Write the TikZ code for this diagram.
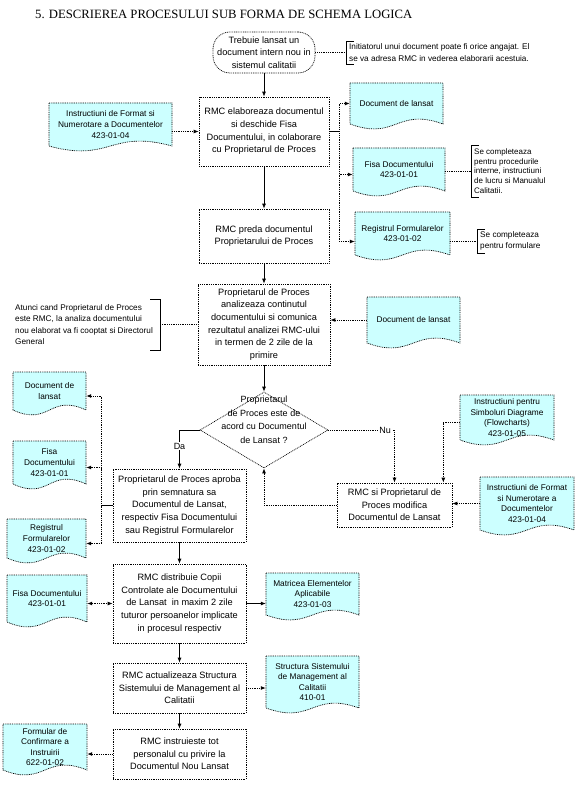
\documentclass[tikz,border=0pt]{standalone}
\usepackage{fontspec}
\setmainfont{Liberation Sans}
\newfontfamily\titlefont{Liberation Serif}
\usetikzlibrary{arrows.meta,shapes.geometric,calc}
\definecolor{docblue}{RGB}{204,255,255}
\newcommand\boxfont{\fontsize{9.2}{12.7}\selectfont}
\newcommand\docfont{\fontsize{8.3}{10.6}\selectfont}
\newcommand\notefont{\fontsize{8.2}{11.5}\selectfont}
\newcommand\docshape[6]{%
  \path[docstyle] (#2,#3) -- (#4,#3) -- (#4,#5) .. controls ({(#2+#4)/2},{#5-17}) and ({(#2+#4)/2},{#5+17}) .. (#2,#5) -- cycle;
  \node[doctext, minimum width={#4-#2}, minimum height={#5-#3}] (#1) at ({(#2+#4)/2},{(#3+#5)/2}) {#6};}
\newcommand\pbox[6]{%
  \node[procbox, minimum width={#4-#2}, minimum height={#5-#3}] (#1) at ({(#2+#4)/2},{(#3+#5)/2}) {#6};}
\begin{document}
\begin{tikzpicture}[x=1pt,y=-1pt,
  dotline/.style={line width=0.7pt, dash pattern=on 0.9pt off 0.9pt},
  procbox/.style={draw=black, dotline, fill=white, align=center, inner sep=0pt, font=\boxfont},
  docstyle/.style={fill=docblue, draw=black, dotline},
  doctext/.style={align=center, inner sep=0pt, font=\docfont},
  term/.style={draw=black, dotline, fill=white, rounded corners=17pt, align=center, inner sep=0pt, font=\boxfont, minimum width=102, minimum height=41},
  notetext/.style={align=left, inner sep=1pt, font=\notefont, anchor=west},
  bracket/.style={draw=black, line width=0.7pt},
  tip/.style={-{Latex[length=5pt,width=4pt]}},
  conn/.style={line width=0.8pt, tip},
  solidline/.style={line width=0.8pt},
  dconn/.style={dotline, line width=0.9pt, tip},
  dline/.style={dotline, line width=0.9pt},
  lbl/.style={fill=white, inner sep=1pt, font=\fontsize{9}{11}\selectfont}
]
\fill[white] (0,0) rectangle (576,786);
\useasboundingbox (0,0) rectangle (576,786);

% title
\node[anchor=base west, inner sep=0pt, font=\titlefont\fontsize{12.7}{14}\selectfont] (title) at (35,19) {5. DESCRIEREA PROCESULUI SUB FORMA DE SCHEMA LOGICA};

% start
\node[term] (term) at (264,52.5) {Trebuie lansat un\\document intern nou in\\sistemul calitatii};
\draw[bracket] (354,41) -- (346,41) -- (346,64) -- (354,64);
\coordinate (n1) at (346,52.5);
\node[notetext] (note1) at (348,52.5) {Initiatorul unui document poate fi orice angajat. El\\se va adresa RMC in vederea elaborarii acestuia.};
\draw[dline] (term.east) -- (n1);

% process boxes
\pbox{b1}{199}{97}{329}{166}{RMC elaboreaza documentul\\si deschide Fisa\\Documentului, in colaborare\\cu Proprietarul de Proces}
\pbox{b2}{199}{209}{329}{263}{RMC preda documentul\\Proprietarului de Proces}
\pbox{b3}{198}{284}{330}{365}{Proprietarul de Proces\\analizeaza continutul\\documentului si comunica\\rezultatul analizei RMC-ului\\in termen de 2 zile de la\\primire}
\node[draw=black, dotline, fill=white, diamond, minimum width=128, minimum height=76, inner sep=0pt] (dia) at (264,430) {};
\node[align=center, inner sep=0pt, font=\fontsize{9}{13.5}\selectfont] (diat) at (264,420) {Proprietarul\\de Proces este de\\acord cu Documentul\\de Lansat ?};
\pbox{b4}{113}{469}{246}{542}{Proprietarul de Proces aproba\\prin semnatura sa\\Documentul de Lansat,\\respectiv Fisa Documentului\\sau Registrul Formularelor}
\pbox{b5}{337}{483}{452}{527}{RMC si Proprietarul de\\Proces modifica\\Documentul de Lansat}
\pbox{b6}{113}{564}{246}{643}{RMC distribuie Copii\\Controlate ale Documentului\\de Lansat\ \ in maxim 2 zile\\tuturor persoanelor implicate\\in procesul respectiv}
\pbox{b7}{113}{663}{246}{713}{RMC actualizeaza Structura\\Sistemului de Management al\\Calitatii}
\pbox{b8}{113}{729}{246}{779}{RMC instruieste tot\\personalul cu privire la\\Documentul Nou Lansat}

% documents
\docshape{dL1}{49}{103}{172}{146}{Instructiuni de Format si\\Numerotare a Documentelor\\423-01-04}
\docshape{dR1}{350}{83}{443}{124}{Document de lansat}
\docshape{dR2}{353}{148}{445}{191}{Fisa Documentului\\423-01-01}
\docshape{dR3}{355}{212}{450}{255}{Registrul Formularelor\\423-01-02}
\docshape{dR4}{367}{297}{460}{343}{Document de lansat}
\docshape{dL2}{13}{372}{86}{410}{Document de\\lansat}
\docshape{dL3}{13}{441}{86}{484}{Fisa\\Documentului\\423-01-01}
\docshape{dL4}{7}{519}{86}{558}{Registrul\\Formularelor\\423-01-02}
\docshape{dR5}{460}{395}{554}{440}{Instructiuni pentru\\Simboluri Diagrame\\(Flowcharts)\\423-01-05}
\docshape{dR6}{480}{477}{574}{530}{Instructiuni de Format\\si Numerotare a\\Documentelor\\423-01-04}
\docshape{dL5}{7}{575}{87}{622}{Fisa Documentului\\423-01-01}
\docshape{dR7}{266}{573}{359}{615}{Matricea Elementelor\\Aplicabile\\423-01-03}
\docshape{dR8}{266}{656}{359}{708}{Structura Sistemului\\de Management al\\Calitatii\\410-01}
\docshape{dL6}{3}{724}{87}{770}{Formular de\\Confirmare a\\Instruirii\\622-01-02}

% notes
\draw[bracket] (479,145) -- (471,145) -- (471,197) -- (479,197);
\coordinate (n2) at (471,171);
\node[notetext, font=\fontsize{8}{9.6}\selectfont] (note2) at (473,171) {Se completeaza\\pentru procedurile\\interne, instructiuni\\de lucru si Manualul\\Calitatii.};
\draw[bracket] (485,229) -- (477,229) -- (477,253) -- (485,253);
\coordinate (n3) at (477,241);
\node[notetext] (note3) at (479,241) {Se completeaza\\pentru formulare};
\draw[bracket] (150,299) -- (160,299) -- (160,350) -- (150,350);
\coordinate (n4) at (160,324.5);
\node[notetext] (note4) at (14,324.5) {Atunci cand Proprietarul de Proces\\este RMC, la analiza documentului\\nou elaborat va fi cooptat si Directorul\\General};

% connectors
\draw[conn] (term.south) -- (b1.north);
\draw[dconn] (b1.west -| dL1.east) -- (b1.west);
\coordinate (bus1) at ($(b1.east)+(10,0)$);
\draw[solidline] (b1.east) -- (bus1);
\draw[dconn] (bus1) |- (dR1.west);
\draw[dconn] (bus1) |- ([yshift=-5pt]dR2.west);
\draw[dconn] (bus1) |- ([yshift=-8pt]dR3.west);
\draw[dline] (dR2.east |- n2) -- (n2);
\draw[dline] (dR3.east |- n3) -- (n3);
\draw[conn] (b1.south) -- (b2.north);
\draw[conn] (b2.south) -- (b3.north);
\draw[dline] (n4) -- (b3.west);
\draw[dconn] (dR4.west) -- (dR4.west -| b3.east);
\draw[conn] (b3.south) -- (dia.north);
\draw[conn] (dia.west) -| (b4.north);
\node[lbl] (da) at (179.5,446) {Da};
\draw[dconn] (dia.east) -| (b5.north);
\node[lbl] (nu) at (385,430) {Nu};
\draw[dconn] ([yshift=-5pt]dR5.west) -| ([xshift=-9pt]b5.north east);
\draw[dconn] (dR6.west) -- (dR6.west -| b5.east);
\draw[dconn] (b5.west) -| (dia.south);
\coordinate (bus2) at ($(b4.west)+(-11,0)$);
\draw[solidline] (b4.west) -- (bus2);
\draw[dconn] (bus2) |- ([yshift=-5pt]dL2.east);
\draw[dconn] (bus2) |- ([yshift=-5pt]dL3.east);
\draw[dconn] (bus2) |- ([yshift=-5pt]dL4.east);
\draw[conn] (b4.south) -- (b6.north);
\draw[dotline, line width=0.9pt, {Latex[length=5pt,width=4pt]}-{Latex[length=5pt,width=4pt]}] (b6.west -| dL5.east) -- (b6.west);
\draw[conn] (b6.east) -- (b6.east -| dR7.west);
\draw[conn] (b6.south) -- (b7.north);
\draw[dconn] (b7.east) -- (b7.east -| dR8.west);
\draw[conn] (b7.south) -- (b8.north);
\draw[dconn] (b8.west) -- (b8.west -| dL6.east);
\end{tikzpicture}
\end{document}
